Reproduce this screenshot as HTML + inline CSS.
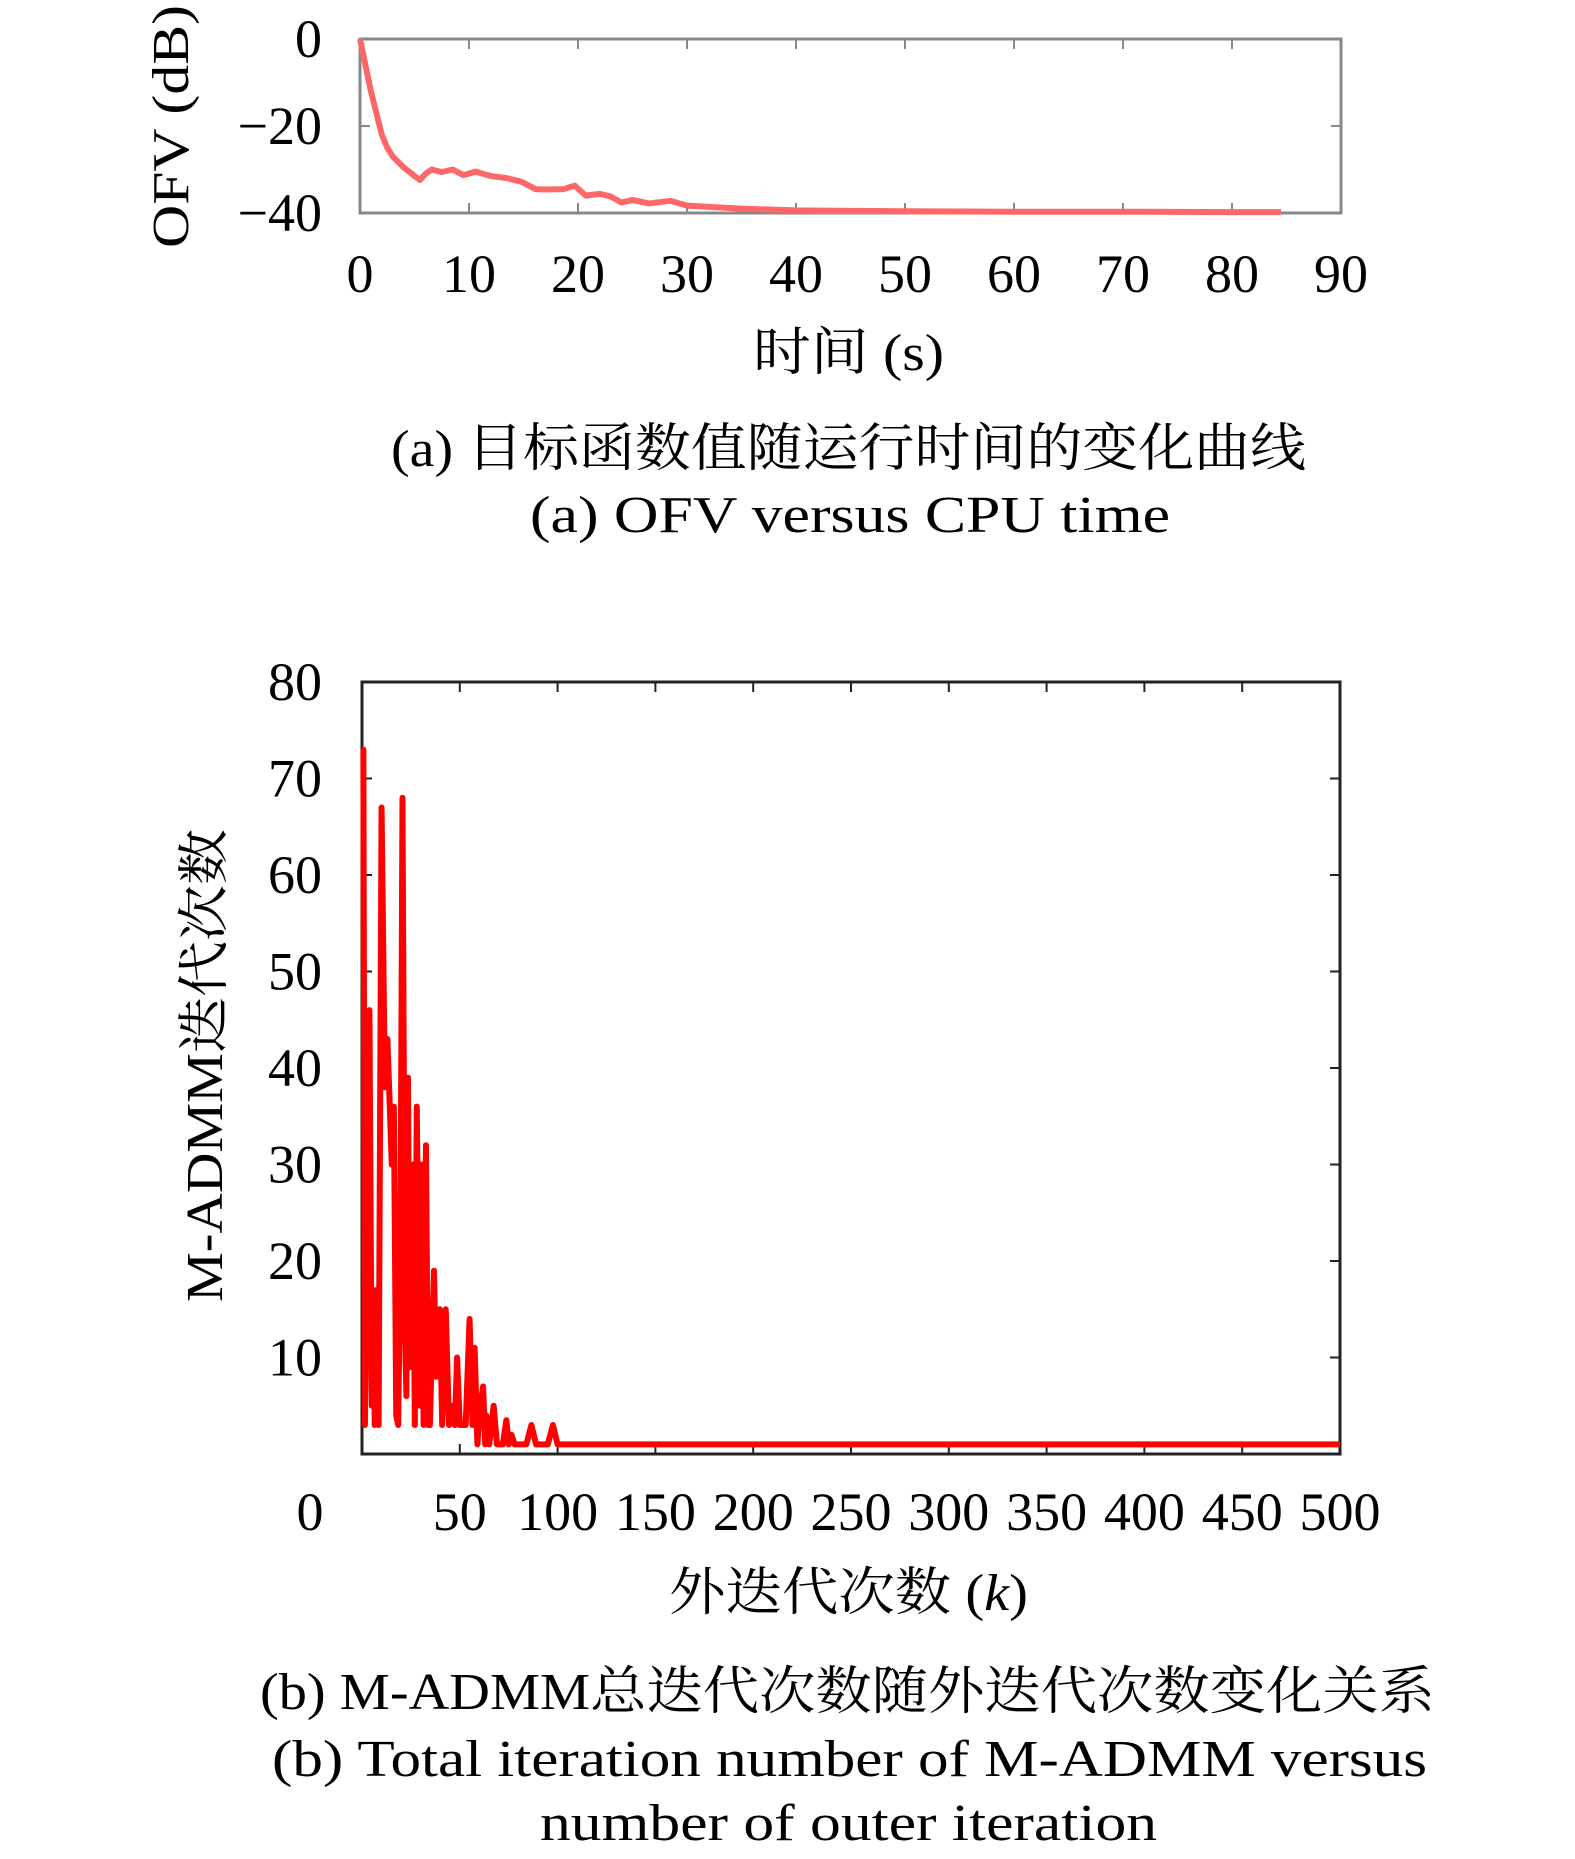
<!DOCTYPE html>
<html><head><meta charset="utf-8"><style>
html,body{margin:0;padding:0;background:#fff;}
svg{display:block;}
text{font-family:"Liberation Serif","Noto Serif CJK SC",serif;fill:#000;}
</style></head><body>
<svg id="fig" width="1575" height="1859" viewBox="0 0 1575 1859">
<g id="top"></g>
<g id="bot"></g>
<text x="753" y="370" font-size="52" textLength="191" lengthAdjust="spacingAndGlyphs">时间 (s)</text>
<text x="391" y="466" font-size="52" textLength="915" lengthAdjust="spacingAndGlyphs">(a) 目标函数值随运行时间的变化曲线</text>
<text x="530" y="532" font-size="52" textLength="640" lengthAdjust="spacingAndGlyphs">(a) OFV versus CPU time</text>
<text transform="translate(188,127) rotate(-90)" x="-121" y="0" font-size="52" textLength="243" lengthAdjust="spacingAndGlyphs">OFV (dB)</text>
<text transform="translate(222,1066) rotate(-90)" x="-236" y="0" font-size="52" textLength="473" lengthAdjust="spacingAndGlyphs">M-ADMM迭代次数</text>
<text x="669" y="1610" font-size="52" textLength="359" lengthAdjust="spacingAndGlyphs">外迭代次数 (<tspan font-style="italic">k</tspan>)</text>
<text x="260" y="1709" font-size="52" textLength="1175" lengthAdjust="spacingAndGlyphs">(b) M-ADMM总迭代次数随外迭代次数变化关系</text>
<text x="272" y="1776" font-size="52" textLength="1155" lengthAdjust="spacingAndGlyphs">(b) Total iteration number of M-ADMM versus</text>
<text x="540" y="1840" font-size="52" textLength="617" lengthAdjust="spacingAndGlyphs">number of outer iteration</text>
</svg>
<script>
// Top chart data
const topTimes = [0,1,2,2.5,3,4,5,5.5,6,6.6,7.5,8.5,9.5,10.6,12,13.5,14.8,16.1,17,18.7,19.7,20.7,22,23,24,25,26.5,28.5,30,32,35,40,45,50,60,70,80,84.5];
const topValues = [0,-12,-22,-25,-27,-29.5,-31.5,-32.4,-31,-30,-30.6,-30,-31.3,-30.5,-31.5,-32,-32.8,-34.5,-34.6,-34.5,-33.7,-36,-35.6,-36.2,-37.6,-37,-37.8,-37.2,-38.3,-38.6,-39,-39.4,-39.5,-39.6,-39.7,-39.7,-39.8,-39.8];
const topXTicks = [0,10,20,30,40,50,60,70,80,90];
const topYTicks = [0,-20,-40];
const topYLabels = ["0","\u221220","\u221240"];
// Bottom chart data
const botK = [0,0.7,1.5,3.8,5,5.8,6.5,7.5,8.5,10,11.7,13,14.2,15.2,16.3,17.5,18.5,19.6,20.7,22,22.7,23.5,24.4,25.3,26,27,28,29.6,30.6,31.5,32.7,33.8,34.7,36.8,38,39.8,41,42.8,44.5,46.2,47.5,48.6,50,51.5,53,55,56.5,57.6,59,60,61.9,63,63.5,65,67.3,69,72,73.8,75,76.4,78,80,84,86.6,89,95,97.6,100,500];
const botV = [73,73,3,46,5,17,3,17,3,67,38,43,36,30,36,4,3,20,68,13,6,39,9,12,30,3,36,5,30,3,32,3,3,19,8,15,3,15,3,5,3,10,3,3,3,14,3,11,1,4,7,1,4,1,5,1,1,3.5,1,2,1,1,1,3,1,1,3,1,1];
const botXTicks = [0,50,100,150,200,250,300,350,400,450,500];
const botYTicks = [10,20,30,40,50,60,70,80];

const NS="http://www.w3.org/2000/svg";
function mk(tag,attrs,parent){const e=document.createElementNS(NS,tag);for(const k in attrs)e.setAttribute(k,attrs[k]);parent.appendChild(e);return e;}

// ---- top chart
const T={x0:360,x1:1341,y0:39,y1:213,xmin:0,xmax:90,ymin:-40,ymax:0};
const tx=v=>T.x0+(v-T.xmin)/(T.xmax-T.xmin)*(T.x1-T.x0);
const ty=v=>T.y1-(v-T.ymin)/(T.ymax-T.ymin)*(T.y1-T.y0);
const gt=document.getElementById('top');
topXTicks.forEach((t,i)=>{
  const a=mk('line',{x1:tx(t),x2:tx(t),y1:T.y1,y2:T.y1-10,stroke:'#888','stroke-width':2},gt);
  
  
  const b=mk('line',{x1:tx(t),x2:tx(t),y1:T.y0,y2:T.y0+10,stroke:'#888','stroke-width':2},gt);
  
  
  const l=mk('text',{x:tx(t),y:292,'font-size':54,'text-anchor':'middle'},gt);l.textContent=String(t);
  
  
});
topYTicks.forEach((t,i)=>{
  const a=mk('line',{x1:T.x0,x2:T.x0+10,y1:ty(t),y2:ty(t),stroke:'#888','stroke-width':2},gt);
  
  
  const b=mk('line',{x1:T.x1,x2:T.x1-10,y1:ty(t),y2:ty(t),stroke:'#888','stroke-width':2},gt);
  
  
  const l=mk('text',{x:322,y:ty(t)+18,'font-size':54,'text-anchor':'end'},gt);l.textContent=topYLabels[i];
  
  
});
const tf=mk('rect',{x:T.x0,y:T.y0,width:T.x1-T.x0,height:T.y1-T.y0,fill:'none',stroke:'#888','stroke-width':3},gt);


const tl=mk('polyline',{points:topTimes.map((t,i)=>tx(t)+','+ty(topValues[i])).join(' '),fill:'none',stroke:'#ff6868','stroke-width':6,'stroke-linejoin':'round'},gt);



// ---- bottom chart
const B={x0:362,x1:1340,y0:682,y1:1454,xmin:0,xmax:500,ymin:0,ymax:80};
const bx=v=>B.x0+(v-B.xmin)/(B.xmax-B.xmin)*(B.x1-B.x0);
const by=v=>B.y1-(v-B.ymin)/(B.ymax-B.ymin)*(B.y1-B.y0);
const gb=document.getElementById('bot');
botXTicks.forEach(t=>{
  const a=mk('line',{x1:bx(t),x2:bx(t),y1:B.y1,y2:B.y1-10,stroke:'#222','stroke-width':2},gb);
  
  
  const b=mk('line',{x1:bx(t),x2:bx(t),y1:B.y0,y2:B.y0+10,stroke:'#222','stroke-width':2},gb);
  
  
  const l=mk('text',{x:t===0?310:bx(t),y:1530,'font-size':54,'text-anchor':'middle'},gb);l.textContent=String(t);
  
  
});
botYTicks.forEach(t=>{
  const a=mk('line',{x1:B.x0,x2:B.x0+10,y1:by(t),y2:by(t),stroke:'#222','stroke-width':2},gb);
  
  
  const b=mk('line',{x1:B.x1,x2:B.x1-10,y1:by(t),y2:by(t),stroke:'#222','stroke-width':2},gb);
  
  
  const l=mk('text',{x:322,y:by(t)+18,'font-size':54,'text-anchor':'end'},gb);l.textContent=String(t);
  
  
});
const bf=mk('rect',{x:B.x0,y:B.y0,width:B.x1-B.x0,height:B.y1-B.y0,fill:'none',stroke:'#222','stroke-width':3},gb);


const bl=mk('polyline',{points:botK.map((k,i)=>bx(k)+','+by(botV[i])).join(' '),fill:'none',stroke:'#ff0000','stroke-width':6,'stroke-linejoin':'round'},gb);


</script>
</body></html>
